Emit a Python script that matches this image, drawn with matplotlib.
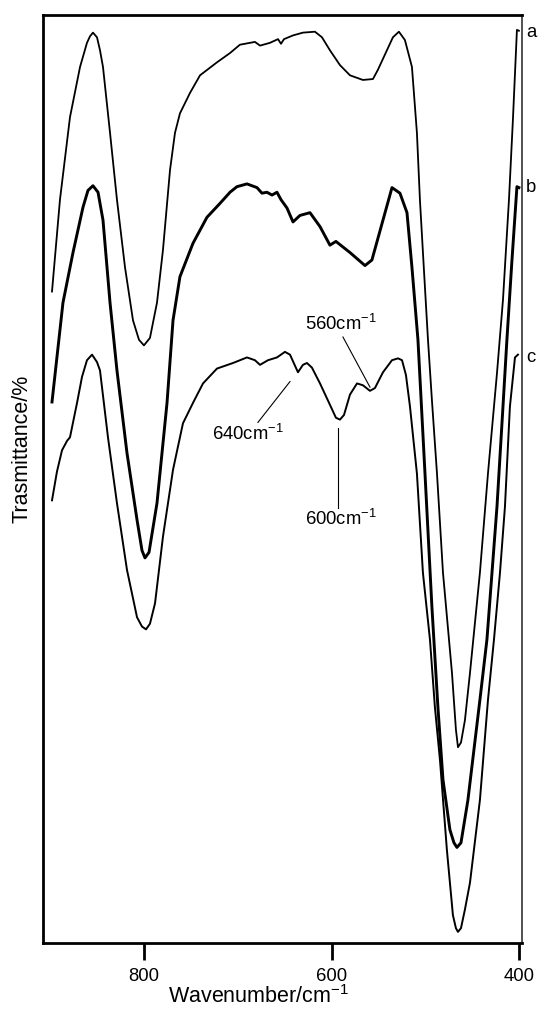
#
# IR spectra a, b, c  (transmittance vs wavenumber)
#

import matplotlib
matplotlib.use('Agg')
from matplotlib import pyplot as plt

# ============================================================
# Data  [wavenumber cm-1, transmittance %]
# ============================================================

wn_a = [898.4, 889.9, 879.2, 868.5, 861.1, 857.9, 854.7, 850.4, 847.2, 844.0,
        836.5, 829.1, 820.5, 812.0, 805.6, 800.3, 793.9, 786.4, 780.0, 772.5,
        767.2, 761.9, 751.2, 740.5, 722.4, 708.5, 697.9, 687.2, 681.9, 676.5,
        665.9, 657.3, 654.1, 650.9, 641.3, 630.7, 617.9, 610.4, 601.9, 591.2,
        580.5, 566.7, 556.0, 550.7, 541.1, 534.7, 528.3, 521.9, 514.4, 509.1,
        505.9, 501.6, 497.3, 493.1, 487.7, 481.3, 471.7, 467.5, 465.3, 462.1,
        457.9, 452.5, 441.9, 433.3, 423.7, 417.3, 410.9, 406.7, 402.4, 400.3]
T_a = [70.2, 80.1, 89.0, 94.4, 97.0, 97.7, 98.1, 97.6, 96.2, 94.4,
       87.3, 80.1, 72.8, 67.1, 65.0, 64.4, 65.2, 69.0, 74.7, 83.3,
       87.3, 89.4, 91.6, 93.5, 94.9, 95.9, 96.8, 97.0, 97.1, 96.7,
       97.0, 97.4, 96.9, 97.4, 97.8, 98.1, 98.2, 97.6, 96.2, 94.6,
       93.5, 93.0, 93.1, 94.1, 96.2, 97.6, 98.2, 97.3, 94.4, 87.3,
       80.1, 72.5, 65.0, 58.5, 50.6, 39.9, 29.1, 23.0, 21.1, 21.6,
       24.0, 29.1, 39.9, 50.6, 61.4, 69.3, 80.1, 88.7, 98.4, 98.3]

wn_b = [898.4, 886.7, 876.0, 865.3, 860.0, 854.7, 849.3, 844.0, 836.5, 829.1,
        818.4, 807.7, 802.4, 799.2, 794.9, 786.4, 775.7, 769.3, 761.9, 748.0,
        733.1, 719.2, 708.5, 701.1, 690.4, 679.7, 674.4, 669.1, 663.7, 658.4,
        654.1, 647.7, 641.3, 633.9, 623.2, 612.5, 601.9, 595.5, 580.5, 564.5,
        557.1, 545.3, 535.7, 527.2, 519.7, 514.4, 508.0, 500.5, 493.1, 486.7,
        481.3, 473.9, 469.6, 466.4, 462.1, 454.7, 441.9, 434.4, 423.7, 417.3,
        413.1, 407.7, 402.4, 400.3]
T_b = [58.3, 69.0, 74.4, 79.3, 81.1, 81.6, 80.9, 77.9, 69.0, 61.7,
       52.8, 45.6, 42.3, 41.5, 42.1, 47.4, 58.2, 67.1, 71.8, 75.4,
       78.2, 79.7, 80.9, 81.5, 81.8, 81.4, 80.8, 80.9, 80.6, 80.9,
       80.1, 79.2, 77.7, 78.4, 78.7, 77.2, 75.2, 75.6, 74.4, 73.0,
       73.6, 77.9, 81.4, 80.8, 78.7, 72.8, 65.0, 50.6, 36.2, 25.4,
       17.6, 12.2, 10.8, 10.3, 10.8, 15.4, 26.2, 32.7, 47.0, 57.8,
       65.0, 73.6, 81.5, 81.4]

wn_c = [898.4, 893.1, 887.7, 882.4, 879.2, 871.7, 866.4, 861.1, 855.7, 850.4,
        847.2, 838.7, 829.1, 818.4, 807.7, 802.4, 798.1, 793.9, 788.5, 780.0,
        769.3, 758.7, 748.0, 737.3, 722.4, 705.3, 690.4, 681.9, 676.5, 668.0,
        658.4, 649.9, 644.5, 636.0, 630.7, 626.4, 621.1, 612.5, 601.9, 595.5,
        591.2, 586.9, 580.5, 573.0, 566.7, 559.2, 553.9, 545.3, 535.7, 529.3,
        525.0, 520.8, 516.5, 509.1, 502.7, 495.2, 489.9, 484.5, 477.1, 470.7,
        467.5, 465.3, 462.1, 457.9, 452.5, 441.9, 433.3, 426.9, 420.5, 415.2,
        409.9, 404.5, 401.3]
T_c = [47.7, 50.8, 53.1, 54.1, 54.5, 58.2, 61.0, 62.8, 63.4, 62.6,
       61.7, 54.5, 47.4, 40.2, 35.1, 34.1, 33.8, 34.4, 36.6, 43.8,
       51.0, 56.0, 58.2, 60.3, 61.9, 62.5, 63.1, 62.8, 62.3, 62.8,
       63.1, 63.7, 63.4, 61.5, 62.3, 62.5, 62.0, 60.3, 58.0, 56.6,
       56.4, 56.9, 59.1, 60.3, 60.1, 59.5, 59.8, 61.5, 62.8, 63.0,
       62.8, 61.2, 57.8, 50.6, 39.9, 32.7, 25.4, 19.7, 10.0, 3.0,
       1.6, 1.2, 1.6, 3.6, 6.5, 15.4, 26.2, 32.7, 39.9, 47.0,
       57.8, 63.1, 63.4]

curve_names = ['a', 'b', 'c']
name_pos = [98.1, 81.4, 63.1]

xticks = [800, 600, 400]

# peak labels : text, text anchor, line start, line end
peak_labels = ['560cm$^{-1}$', '640cm$^{-1}$', '600cm$^{-1}$']
peak_text = [(628.5, 66.1), (727.7, 54.2), (628.5, 45.0)]
peak_line = [((588.0, 65.3), (559.2, 59.9)),
             ((678.7, 56.1), (644.5, 60.5)),
             ((593.3, 55.5), (593.3, 46.9))]

# ============================================================
# Plot
# ============================================================

plt.rcParams['font.family'] = ['Liberation Sans', 'DejaVu Sans']
plt.rcParams['mathtext.fontset'] = 'custom'
plt.rcParams['mathtext.rm'] = 'Liberation Sans'
plt.rcParams['mathtext.it'] = 'Liberation Sans:italic'

fig = plt.figure(figsize=(5.42, 10.09), dpi=100)
ax = fig.add_axes([43/542, 66/1009, 479/542, 928/1009])

ax.plot(wn_a, T_a, '-k', lw=1.3, solid_joinstyle='round')
ax.plot(wn_b, T_b, '-k', lw=2.1, solid_joinstyle='round')
ax.plot(wn_c, T_c, '-k', lw=1.4, solid_joinstyle='round')

for name, y in zip(curve_names, name_pos):
    ax.text(392.5, y, name, fontsize=13.3, ha='left', va='center', clip_on=False)

for lab, (tx, ty), ((x0, y0), (x1, y1)) in zip(peak_labels, peak_text, peak_line):
    ax.text(tx, ty, lab, fontsize=13.3, ha='left', va='baseline')
    ax.plot([x0, x1], [y0, y1], '-k', lw=0.8)

ax.set_xlim(908, 397)
ax.set_ylim(0, 100)
ax.set_xticks(xticks)
ax.set_yticks([])
ax.tick_params(axis='x', direction='out', length=12, width=2, pad=6, labelsize=13.3)

for s in ['left', 'top', 'bottom']:
    ax.spines[s].set_linewidth(2)
ax.spines['right'].set_linewidth(1.2)
ax.spines['right'].set_color('#333333')

ax.set_xlabel('Wavenumber/cm$^{-1}$', fontsize=15.5)
ax.xaxis.set_label_coords(0.451, -0.045)
ax.set_ylabel('Trasmittance/%', fontsize=15.5)
ax.yaxis.set_label_coords(-0.021, 0.533)

fig.savefig('out.png', dpi=100)
